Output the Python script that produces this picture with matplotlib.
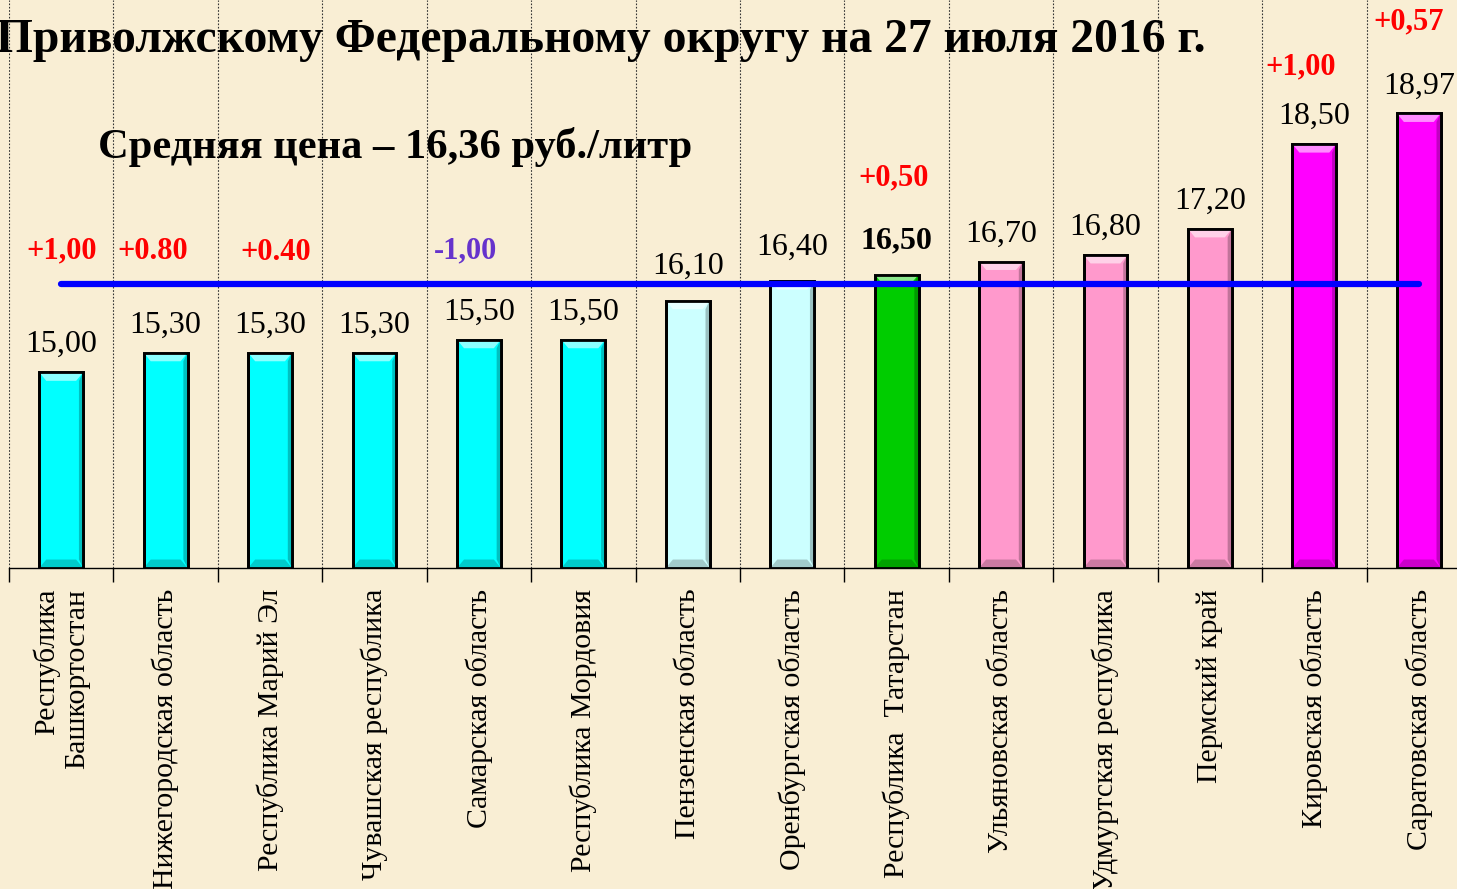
import numpy as np
import matplotlib
matplotlib.use("Agg")
import matplotlib.pyplot as plt
from matplotlib.patches import Polygon
from matplotlib.colors import to_rgb

plt.rcParams['font.family'] = ['Liberation Serif', 'DejaVu Serif']

# Data
regions = ["Республика\nБашкортостан", "Нижегородская область", "Республика Марий Эл",
           "Чувашская республика", "Самарская область", "Республика Мордовия",
           "Пензенская область", "Оренбургская область", "Республика  Татарстан",
           "Ульяновская область", "Удмуртская республика", "Пермский край",
           "Кировская область", "Саратовская область"]
prices = [15.00, 15.30, 15.30, 15.30, 15.50, 15.50, 16.10, 16.40, 16.50,
          16.70, 16.80, 17.20, 18.50, 18.97]
price_labels = ["15,00", "15,30", "15,30", "15,30", "15,50", "15,50", "16,10",
                "16,40", "16,50", "16,70", "16,80", "17,20", "18,50", "18,97"]
bar_colors = ["#00FFFF"] * 6 + ["#CCFFFF"] * 2 + ["#00CC00"] + ["#FF99CC"] * 3 + ["#FF00FF"] * 2
average = 16.36

# price changes: (bar index, text, y position)
change_idx = [0, 1, 2, 4, 8, 12, 13]
change_txt = ["+1,00", "+0.80", "+0.40", "-1,00", "+0,50", "+1,00", "+0,57"]
change_y = [16.86, 16.86, 16.84, 16.86, 17.98, 19.68, 20.38]
change_dx = [0.0, -0.12, 0.05, -0.13, -0.03, -0.13, -0.10]
change_col = ["#FF0000", "#FF0000", "#FF0000", "#6633CC", "#FF0000", "#FF0000", "#FF0000"]

bg = "#F9EED4"
fig = plt.figure(figsize=(14.57, 8.89), dpi=100, facecolor=bg)
ax = fig.add_axes([9 / 1457, (889 - 568) / 889, 1462 / 1457, 568 / 889])
ax.set_facecolor(bg)

x = np.arange(len(prices))
bars = ax.bar(x, prices, width=0.42, bottom=0, color=bar_colors,
              edgecolor="black", linewidth=2, zorder=3)
ax.set_xlim(-0.5, len(prices) - 0.5)
ax.set_ylim(12, 20.71)

# simple bevel effect on each bar
bh = 0.13
for b, c in zip(bars, bar_colors):
    x0, w, h = b.get_x(), b.get_width(), b.get_height()
    rgb = np.array(to_rgb(c))
    light = 1 - (1 - rgb) * 0.45
    dark = rgb * 0.6
    bw = w * 0.16
    ax.add_patch(Polygon([(x0, h), (x0 + w, h), (x0 + w - bw, h - bh), (x0 + bw, h - bh)],
                         closed=True, color=light, lw=0, zorder=3.5))
    ax.add_patch(Polygon([(x0 + w, h), (x0 + w, 12), (x0 + w - bw * 0.6, 12 + bh), (x0 + w - bw * 0.6, h - bh)],
                         closed=True, color=dark, lw=0, alpha=0.6, zorder=3.5))
    ax.add_patch(Polygon([(x0, 12), (x0 + w, 12), (x0 + w - bw, 12 + bh), (x0 + bw, 12 + bh)],
                         closed=True, color=dark, lw=0, alpha=0.5, zorder=3.5))
    ax.add_patch(plt.Rectangle((x0, 12), w, h - 12, fill=False, ec="black", lw=2, zorder=3.6))

# price labels
for i, (p, t) in enumerate(zip(prices, price_labels)):
    dy = 0.2
    if i in (6, 7, 8):
        dy = 0.3
    ax.text(i, p + dy, t, ha="center", va="bottom", fontsize=23,
            fontweight="bold" if i == 8 else "normal", zorder=5)

# average line
ax.plot([x[0], x[-1]], [average, average], color="#0000FF", lw=4.5,
        solid_capstyle="round", zorder=4)

# change annotations
for i, t, yy, dx, c in zip(change_idx, change_txt, change_y, change_dx, change_col):
    ax.text(i + dx, yy, t, ha="center", va="center", fontsize=22,
            fontweight="bold", color=c, zorder=5)

# axes styling
for s in ["top", "right", "left"]:
    ax.spines[s].set_visible(False)
ax.spines["bottom"].set_color("black")
ax.spines["bottom"].set_linewidth(1)
ax.set_yticks([])
ax.set_xticks(x)
ax.set_xticklabels(regions, rotation=90, fontsize=21.5, va="top", ha="center",
                   multialignment="right")
ax.tick_params(axis="x", which="major", length=0, pad=15)
ax.set_xticks(np.arange(-0.5, len(prices)), minor=True)
ax.tick_params(axis="x", which="minor", length=10, width=1, color="black", direction="out")
ax.grid(axis="x", which="minor", color="#333333", linestyle=(0, (1.5, 1.5)), lw=0.8, zorder=1)

# titles
fig.text(-0.003, 1 - 52 / 889, "Приволжскому Федеральному округу на 27 июля 2016 г.",
         ha="left", va="baseline", fontsize=34.3, fontweight="bold")
fig.text(98 / 1457, 1 - 158 / 889, "Средняя цена – 16,36 руб./литр",
         ha="left", va="baseline", fontsize=30.6, fontweight="bold")

fig.savefig("out.png", dpi=100, facecolor=bg)
